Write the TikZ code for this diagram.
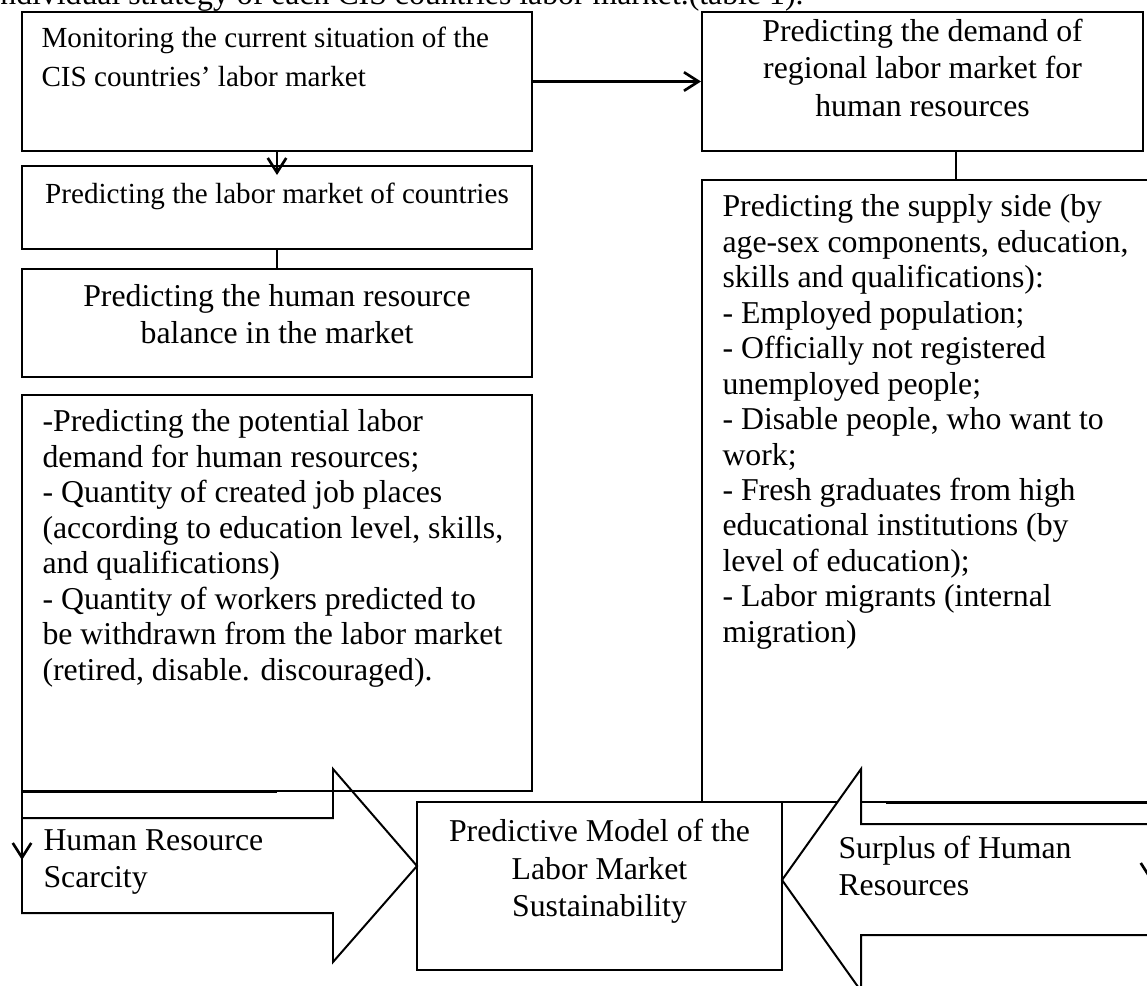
\documentclass[tikz,border=0pt]{standalone}
\usepackage{fontspec}
\setmainfont{Liberation Serif}
\usetikzlibrary{arrows.meta,fit,calc}

\tikzset{
	box/.style={draw, line width=0.75pt, inner sep=0pt, fill=white},
	txt/.style={inner sep=0pt, font=\fontsize{12pt}{14pt}\selectfont},
	smalltxt/.style={inner sep=0pt, font=\fontsize{11pt}{15pt}\selectfont},
	listtxt/.style={inner sep=0pt, font=\fontsize{12pt}{13.4pt}\selectfont},
	conn/.style={line width=1pt},
	bigarrow/.style={draw, line width=0.75pt, line join=miter},
}

\begin{document}
\begin{tikzpicture}[x=0.3776pt, y=-0.3776pt, arrows={-Straight Barb[length=5.5pt,width=7pt]}]
	\useasboundingbox (0,0) rectangle (1147,985);
	\node[txt, anchor=base west] (lead) at (-9,5) {individual strategy of each CIS countries labor market.(table 1).};
	% boxes
	\node[box, fit={(22,12) (532,151)}] (A) {};
	\node[box, fit={(702,12) (1143,151)}] (B) {};
	\node[box, fit={(22,166) (532,249)}] (LC) {};
	\node[box, fit={(22,269) (532,377)}] (C) {};
	\node[box, fit={(22,395) (532,791)}] (F) {};
	\node[box, fit={(702,180) (1210,802)}] (D) {};
	\node[box, fit={(417,802) (782,970)}] (E) {};
	\node[smalltxt, anchor=north west, align=left] (A-t) at ($(A.north west)+(20,15)$) {Monitoring the current situation of the\\CIS countries’ labor market};
	\node[txt, anchor=north, align=center] (B-t) at ($(B.north)+(0,8)$) {Predicting the demand of\\regional labor market for\\human resources};
	\node[smalltxt, anchor=north, align=center] (LC-t) at ($(LC.north)+(0,17)$) {Predicting the labor market of countries};
	\node[txt, anchor=north, align=center] (C-t) at ($(C.north)+(0,16)$) {Predicting the human resource\\balance in the market};
	\node[listtxt, anchor=north west, align=left] (F-t) at ($(F.north west)+(21,15)$) {-Predicting the potential labor\\demand for human resources;\\- Quantity of created job places\\(according to education level, skills,\\and qualifications)\\- Quantity of workers predicted to\\be withdrawn from the labor market\\(retired, disable. discouraged).};
	\node[listtxt, anchor=north west, align=left] (D-t) at ($(D.north west)+(21,15)$) {Predicting the supply side (by\\age-sex components, education,\\skills and qualifications):\\- Employed population;\\- Officially not registered\\unemployed people;\\- Disable people, who want to\\work;\\- Fresh graduates from high\\educational institutions (by\\level of education);\\- Labor migrants (internal\\migration)};
	\node[txt, anchor=north, align=center] (E-t) at ($(E.north)+(0,18)$) {Predictive Model of the\\Labor Market\\Sustainability};
	% connectors
	\draw[conn] (A.east) to (B.west);
	\draw[conn] (A.south) to ($(LC.north)+(0,10)$);
	\draw[conn, -] (LC.south) to (C.north);
	\draw[conn, -] (D.north |- B.south) to (D.north);
	% big arrows
	\draw[bigarrow, -] (22,818) -- (333,818) -- (333,769) -- (417,866) -- (333,962) -- (333,913) -- (22,913) -- cycle;
	\draw[bigarrow, -, fill=white] (1170,824) -- (861,824) -- (861,769) -- (782,880) -- (861,991) -- (861,935) -- (1170,935) -- cycle;
	\node[txt, anchor=north west, align=left] (sc-t) at (43,829) {Human Resource\\Scarcity};
	\node[txt, anchor=north west, align=left] (sp-t) at (838,836) {Surplus of Human\\Resources};
	\coordinate (sc-tip) at (22,860);
	\coordinate (sp-tip) at (1150,880);
	\draw[conn] (F.south) -| (sc-tip);
	\draw[conn] ($(D.south west)+(185,0)$) -| (sp-tip);
\end{tikzpicture}
\end{document}
